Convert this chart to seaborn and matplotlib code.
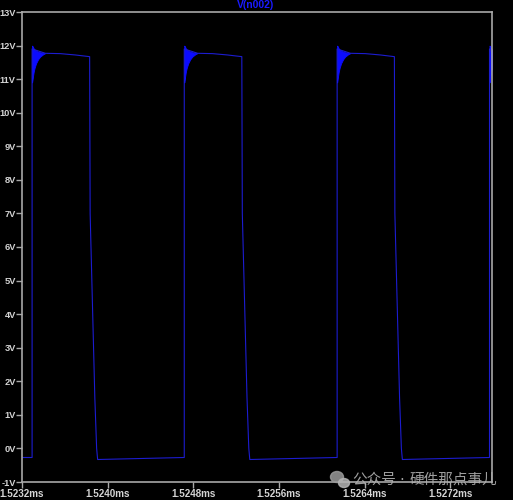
import numpy as np
import pandas as pd
import matplotlib
matplotlib.use("Agg")
import matplotlib.pyplot as plt
from matplotlib.patches import Ellipse
from matplotlib.ticker import FuncFormatter
import seaborn as sns

# V(n002) trace, time in ms, voltage in V
t_ms = [1.5232000, 1.5232943, 1.5232943, 1.5234184, 1.5235585, 1.5236985, 1.5238320,
        1.5238366, 1.5238805, 1.5238973, 1.5239067,
        1.5247160, 1.5247160, 1.5248402, 1.5249802, 1.5251202, 1.5252537,
        1.5252584, 1.5253023, 1.5253190, 1.5253284,
        1.5261443, 1.5261443, 1.5262684, 1.5264084, 1.5265485, 1.5266792,
        1.5266838, 1.5267277, 1.5267445, 1.5267538,
        1.5275678, 1.5275678, 1.5275912]
v_n002 = [-0.27, -0.27, 11.9, 11.77, 11.76, 11.72, 11.67,
          7.0, 1.5, 0.0, -0.33,
          -0.27, 11.9, 11.77, 11.76, 11.72, 11.67,
          7.0, 1.5, 0.0, -0.33,
          -0.27, 11.9, 11.77, 11.76, 11.72, 11.67,
          7.0, 1.5, 0.0, -0.33,
          -0.27, 11.9, 11.8]

# ringing after each rising edge: envelope (ns after the edge, upper / lower V)
rise_ms = [1.5232943, 1.5247160, 1.5261443, 1.5275678]
ring_ns = [0, 7, 14, 23, 37, 56, 75, 103, 121]
ring_hi = [12.0, 11.97, 11.92, 11.88, 11.85, 11.82, 11.80, 11.78, 11.77]
ring_lo = [10.9, 11.05, 11.2, 11.33, 11.47, 11.59, 11.67, 11.74, 11.77]

y_ticks = list(range(-1, 14))
x_ticks = [1.5232, 1.5240, 1.5248, 1.5256, 1.5264, 1.5272]

df = pd.DataFrame({"t": t_ms, "v": v_n002})

sns.set_style("dark", rc={"axes.facecolor": "black", "figure.facecolor": "black"})
plt.rcParams["font.family"] = ["Liberation Sans", "DejaVu Sans"]

fig = plt.figure(figsize=(5.13, 5.00), dpi=100)
ax = fig.add_axes([22 / 513, 18 / 500, 470 / 513, 470 / 500])

sns.lineplot(data=df, x="t", y="v", sort=False, estimator=None,
             color="#1c1cd0", linewidth=0.8, ax=ax)

for r in rise_ms:
    tt = [r + d * 1e-6 for d in ring_ns]
    ax.fill_between(tt, ring_lo, ring_hi, color="#0c0cff", linewidth=0.6,
                    edgecolor="#0c0cff")

ax.set_xlim(1.5232, 1.5275912)
ax.set_ylim(-1, 13)
ax.set_xticks(x_ticks)
ax.set_yticks(y_ticks)
ax.xaxis.set_major_formatter(FuncFormatter(lambda v, p: f"{v:.4f}ms"))
ax.yaxis.set_major_formatter(FuncFormatter(lambda v, p: f"{int(round(v))}V"))
ax.set_xlabel("")
ax.set_ylabel("")
ax.grid(False)

for s in ax.spines.values():
    s.set_visible(True)
    s.set_color("#a8a8a8")
    s.set_linewidth(1.2)

ax.tick_params(axis="both", colors="#a8a8a8", length=4, width=1,
               labelcolor="#d4d4d4", direction="out", bottom=True, left=True)
ax.tick_params(axis="x", labelsize=7.1, pad=1)
ax.tick_params(axis="y", labelsize=6.7, pad=0.5)
for lab in ax.get_xticklabels() + ax.get_yticklabels():
    lab.set_fontweight("bold")

fig.text(256 / 513, 1 - 8 / 500, "V(n002)", color="#1a1aff", fontsize=7.5,
         fontweight="bold", ha="center", va="baseline")

# watermark
cjk = ["Noto Sans CJK SC", "DejaVu Sans"]
fig.patches.append(Ellipse((337 / 513, 1 - 477 / 500), 13 / 513, 11 / 500,
                           transform=fig.transFigure, color="#9a9a9a", alpha=0.85))
fig.patches.append(Ellipse((344 / 513, 1 - 483 / 500), 11 / 513, 9 / 500,
                           transform=fig.transFigure, color="#b5b5b5", alpha=0.85))
fig.text(352 / 513, 1 - 480 / 500, "公众号", color="#b0b0b0", alpha=0.9,
         fontsize=10.5, ha="left", va="center", family=cjk)
fig.text(402 / 513, 1 - 480 / 500, "·", color="#b0b0b0", alpha=0.9,
         fontsize=10.5, ha="center", va="center", family=["DejaVu Sans"])
fig.text(410 / 513, 1 - 480 / 500, "硬件那点事儿", color="#b0b0b0", alpha=0.9,
         fontsize=10.5, ha="left", va="center", family=cjk)

plt.savefig("out.png", dpi=100, facecolor="black")
